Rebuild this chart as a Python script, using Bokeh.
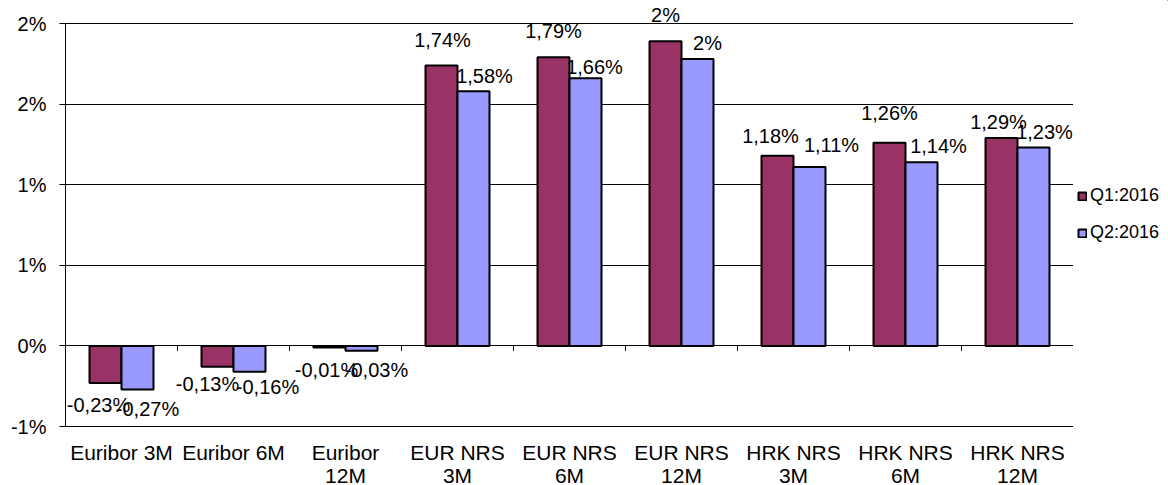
import math
from bokeh.plotting import figure
from bokeh.layouts import row
from bokeh.models import (ColumnDataSource, FactorRange, Range1d, FixedTicker,
                          LabelSet, Legend, LegendItem)
from bokeh.transform import dodge
from bokeh.core.properties import value
from bokeh.embed import file_html
from bokeh.resources import INLINE

# ---------------- data ----------------
categories = ["Euribor 3M", "Euribor 6M", "Euribor\n12M",
              "EUR NRS\n3M", "EUR NRS\n6M", "EUR NRS\n12M",
              "HRK NRS\n3M", "HRK NRS\n6M", "HRK NRS\n12M"]
series_names = ["Q1:2016", "Q2:2016"]
q1_2016 = [-0.23, -0.13, -0.01, 1.74, 1.79, 1.89, 1.18, 1.26, 1.29]
q2_2016 = [-0.27, -0.16, -0.03, 1.58, 1.66, 1.78, 1.11, 1.14, 1.23]
q1_labels = ["-0,23%", "-0,13%", "-0,01%", "1,74%", "1,79%", "2%", "1,18%", "1,26%", "1,29%"]
q2_labels = ["-0,27%", "-0,16%", "-0,03%", "1,58%", "1,66%", "2%", "1,11%", "1,14%", "1,23%"]
y_ticks = [-0.5, 0.0, 0.5, 1.0, 1.5, 2.0]
y_tick_labels = ["-1%", "0%", "1%", "1%", "2%", "2%"]

# ---------------- style ----------------
FONT = "Liberation Sans"
C_Q1 = "#993366"
C_Q2 = "#9999FF"
BAR_W = 0.2857
W, H = 1168, 485
LEFT, RIGHT = 65, 95          # plot-area margins (px)
TOP_PX, BOT_PX = 23, 59       # space above 2% line / below -1% line (px)
# label offsets in screen pixels (placement style of the original data labels)
q1_dx = [-7, -10, -3, 1, 0, 0, -7, 0, -3]
q1_dy = [-22, -17, -22, 25, 26, 26, 20, 30, 16]
q2_dx = [10, 18, 15, 11, 9, 10, 22, 17, 11]
q2_dy = [-20, -15, -19, 15, 11, 16, 22, 16, 16]

cat_line1 = [c.split("\n")[0] for c in categories]
cat_line2 = [c.split("\n")[1] if "\n" in c else "" for c in categories]

src1 = ColumnDataSource(dict(cat=categories, val=q1_2016, txt=q1_labels, dx=q1_dx, dy=q1_dy))
src2 = ColumnDataSource(dict(cat=categories, val=q2_2016, txt=q2_labels, dx=q2_dx, dy=q2_dy))
src_cat = ColumnDataSource(dict(cat=categories, base=[y_ticks[0]] * len(categories),
                                l1=cat_line1, l2=cat_line2))

# y range extended so the frame covers the whole height (texts are drawn inside it)
y_lo, y_hi = y_ticks[0], y_ticks[-1]
px_per_unit = (H - TOP_PX - BOT_PX) / (y_hi - y_lo)
y_range = Range1d(y_lo - BOT_PX / px_per_unit, y_hi + TOP_PX / px_per_unit)

p = figure(width=W - RIGHT, height=H, output_backend="svg", toolbar_location=None,
           x_range=FactorRange(factors=categories, range_padding=0),
           y_range=y_range,
           min_border_left=LEFT, min_border_top=0, min_border_bottom=0, min_border_right=0)
p.outline_line_color = None
p.background_fill_color = "white"
p.border_fill_color = "white"
p.xaxis.visible = False

bar_style = dict(line_color="black", line_width=2)
r1 = p.vbar(x=dodge("cat", -BAR_W / 2, range=p.x_range), top="val", bottom=0, width=BAR_W,
            source=src1, fill_color=C_Q1, **bar_style)
r2 = p.vbar(x=dodge("cat", BAR_W / 2, range=p.x_range), top="val", bottom=0, width=BAR_W,
            source=src2, fill_color=C_Q2, **bar_style)

# category-boundary tick marks on the zero line
p.ray(x=list(range(len(categories) + 1)), y=0, length=5, length_units="screen",
      angle=-math.pi / 2, line_color="black", line_width=1)

for src, off in ((src1, -BAR_W / 2), (src2, BAR_W / 2)):
    p.add_layout(LabelSet(x=dodge("cat", off, range=p.x_range), y="val", text="txt",
                          x_offset="dx", y_offset="dy", source=src,
                          text_align="center", text_baseline="middle",
                          text_font=value(FONT), text_font_size="20px", text_color="black"))

# category labels under the plot area (two lines)
for col, yoff in (("l1", -33), ("l2", -56)):
    p.add_layout(LabelSet(x="cat", y="base", text=col, source=src_cat, y_offset=yoff,
                          text_align="center", text_baseline="alphabetic",
                          text_font=value(FONT), text_font_size="21px", text_color="black"))

# y axis
p.yaxis.bounds = (y_lo, y_hi)
p.yaxis.ticker = FixedTicker(ticks=y_ticks)
p.yaxis.major_label_overrides = dict(zip(y_ticks, y_tick_labels))
p.yaxis.major_label_text_font = FONT
p.yaxis.major_label_text_font_size = "20px"
p.yaxis.major_label_text_color = "black"
p.yaxis.major_tick_out = 6
p.yaxis.major_tick_in = 0
p.yaxis.minor_tick_line_color = None
p.yaxis.major_label_standoff = 13
p.yaxis.axis_line_color = "black"
p.yaxis.major_tick_line_color = "black"

p.ygrid.grid_line_color = "black"
p.ygrid.grid_line_width = 1
p.xgrid.grid_line_color = None

# ---------------- legend panel (right of the plot area) ----------------
lf = figure(width=RIGHT, height=H, output_backend="svg", toolbar_location=None,
            x_range=Range1d(0, 1), y_range=Range1d(0, 1),
            min_border_left=0, min_border_top=0, min_border_bottom=0, min_border_right=0)
lf.axis.visible = False
lf.grid.visible = False
lf.outline_line_color = None
lf.background_fill_color = "white"
lf.border_fill_color = "white"
# legend key renderers: one bar each, placed outside this panel's visible range
k1 = lf.vbar(x=[5], top=[5], bottom=[4], width=0.1, fill_color=C_Q1, **bar_style)
k2 = lf.vbar(x=[5], top=[5], bottom=[4], width=0.1, fill_color=C_Q2, **bar_style)

legend = Legend(items=[LegendItem(label=series_names[0], renderers=[k1]),
                       LegendItem(label=series_names[1], renderers=[k2])],
                location=(4, 242), orientation="vertical")
legend.border_line_color = None
legend.background_fill_alpha = 0
legend.label_text_font = FONT
legend.label_text_font_size = "18px"
legend.label_text_color = "black"
legend.glyph_width = 10
legend.glyph_height = 10
legend.label_standoff = 3
legend.label_height = 20
legend.spacing = 16
legend.padding = 6
legend.margin = 0
lf.add_layout(legend)

layout = row(p, lf, spacing=0)
open("out.html", "w").write(file_html(layout, INLINE))
